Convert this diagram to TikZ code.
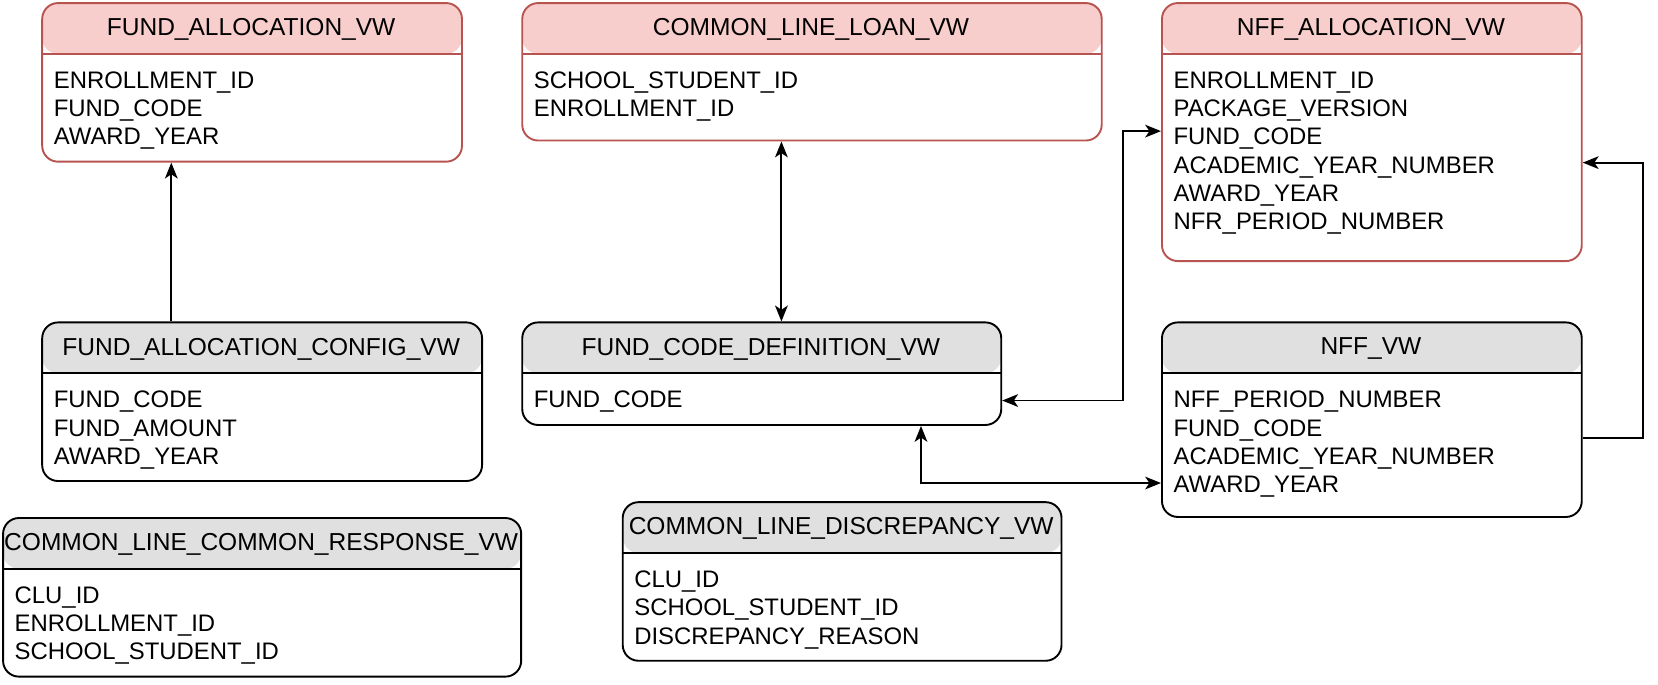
\documentclass[tikz,border=0pt]{standalone}
\usepackage{fontspec}
\setmainfont{Liberation Sans}
\usepackage{xcolor}
\usetikzlibrary{arrows.meta}
\definecolor{redfill}{HTML}{F8CECC}
\definecolor{redline}{HTML}{B85450}
\definecolor{grayfill}{HTML}{E0E0E0}
\begin{document}
\begin{tikzpicture}[x=1pt, y=-1pt, line width=1.8pt,
    tbl/.style={draw=#1, fill=white, rounded corners=15pt, anchor=north west, inner sep=0pt},
    redtbl/.style={tbl=redline, path picture={
        \fill[redfill] (path picture bounding box.north west) rectangle ([yshift=-48pt]path picture bounding box.north east);
        \draw[redline, line width=1.8pt] ([yshift=-48pt]path picture bounding box.north west) -- ([yshift=-48pt]path picture bounding box.north east);}},
    graytbl/.style={tbl=black, path picture={
        \fill[grayfill] (path picture bounding box.north west) rectangle ([yshift=-48pt]path picture bounding box.north east);
        \draw[black, line width=1.8pt] ([yshift=-48pt]path picture bounding box.north west) -- ([yshift=-48pt]path picture bounding box.north east);}},
    hdr/.style={inner sep=0pt, font=\fontsize{23.2}{27}\selectfont},
    fld/.style={inner sep=0pt, anchor=north west, align=left, font=\fontsize{22.6}{26.7}\selectfont},
    arr/.style={line width=1.8pt, -{Stealth[length=15pt, width=12pt, inset=4pt]}},
    darr/.style={line width=1.8pt, {Stealth[length=15pt, width=12pt, inset=4pt]}-{Stealth[length=15pt, width=12pt, inset=4pt]}}]
        \useasboundingbox (0,0) rectangle (1568,647);
        \node[redtbl, minimum width=397pt, minimum height=150pt] (fav) at (39,2) {};
        \node[redtbl, minimum width=548pt, minimum height=130pt] (cllv) at (493,2) {};
        \node[redtbl, minimum width=397pt, minimum height=244pt] (nav) at (1098,2) {};
        \node[graytbl, minimum width=416pt, minimum height=150pt] (facv) at (39,304) {};
        \node[graytbl, minimum width=453pt, minimum height=97pt] (fcdv) at (493,304) {};
        \node[graytbl, minimum width=397pt, minimum height=184pt] (nffv) at (1098,304) {};
        \node[graytbl, minimum width=490pt, minimum height=150pt] (clcrv) at (2,489) {};
        \node[graytbl, minimum width=415pt, minimum height=150pt] (cldv) at (588,474) {};
        \node[hdr] (favh) at (237.5,28) {FUND\_ALLOCATION\_VW};
        \node[hdr] (cllvh) at (767,28) {COMMON\_LINE\_LOAN\_VW};
        \node[hdr] (navh) at (1296.5,28) {NFF\_ALLOCATION\_VW};
        \node[hdr] (facvh) at (247,330) {FUND\_ALLOCATION\_CONFIG\_VW};
        \node[hdr] (fcdvh) at (719.5,330) {FUND\_CODE\_DEFINITION\_VW};
        \node[hdr] (nffvh) at (1296.5,330) {NFF\_VW};
        \node[hdr] (clcrvh) at (247,515) {COMMON\_LINE\_COMMON\_RESPONSE\_VW};
        \node[hdr] (cldvh) at (795.5,500) {COMMON\_LINE\_DISCREPANCY\_VW};
        \node[fld] (favf) at (50,67) {ENROLLMENT\_ID\\FUND\_CODE\\AWARD\_YEAR};
        \node[fld] (cllvf) at (504,67) {SCHOOL\_STUDENT\_ID\\ENROLLMENT\_ID};
        \node[fld] (navf) at (1109,67) {ENROLLMENT\_ID\\PACKAGE\_VERSION\\FUND\_CODE\\ACADEMIC\_YEAR\_NUMBER\\AWARD\_YEAR\\NFR\_PERIOD\_NUMBER};
        \node[fld] (facvf) at (50,369) {FUND\_CODE\\FUND\_AMOUNT\\AWARD\_YEAR};
        \node[fld] (fcdvf) at (504,369) {FUND\_CODE};
        \node[fld] (nffvf) at (1109,369) {NFF\_PERIOD\_NUMBER\\FUND\_CODE\\ACADEMIC\_YEAR\_NUMBER\\AWARD\_YEAR};
        \node[fld] (clcrvf) at (13,554) {CLU\_ID\\ENROLLMENT\_ID\\SCHOOL\_STUDENT\_ID};
        \node[fld] (cldvf) at (599,539) {CLU\_ID\\SCHOOL\_STUDENT\_ID\\DISCREPANCY\_REASON};
        \draw[arr] ([xshift=123pt]facv.north west) -- ([xshift=123pt]fav.south west);
        \draw[darr] ([xshift=246pt]cllv.south west) -- ([xshift=246pt]fcdv.north west);
        \draw[darr] ([yshift=24pt]fcdv.south east) -- ++(114,0) |- ([yshift=-122pt]nav.north west);
        \draw[darr] ([xshift=378pt]fcdv.south west) |- ([yshift=33pt]nffv.south west);
        \draw[arr] ([yshift=76pt]nffv.south east) -- ++(57,0) |- ([yshift=94pt]nav.south east);
\end{tikzpicture}
\end{document}
